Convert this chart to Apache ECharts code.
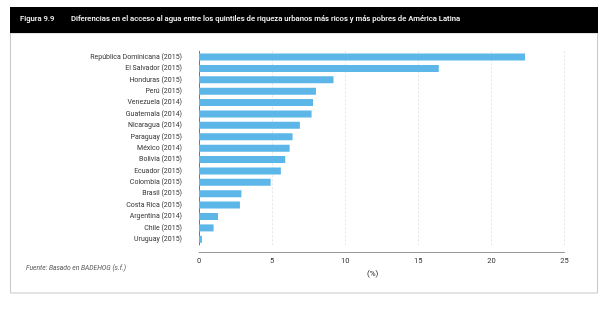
<!DOCTYPE html>
<html><head><meta charset="utf-8">
<script src="https://cdn.jsdelivr.net/npm/echarts@6/dist/echarts.min.js"></script>
<style>html,body{margin:0;padding:0;background:#fff}#c{width:600px;height:329px}</style>
</head><body><div id="c"></div>
<script>
const categories = ["República Dominicana (2015)","El Salvador (2015)","Honduras (2015)","Perú (2015)","Venezuela (2014)","Guatemala (2014)","Nicaragua (2014)","Paraguay (2015)","México (2014)","Bolivia (2015)","Ecuador (2015)","Colombia (2015)","Brasil (2015)","Costa Rica (2015)","Argentina (2014)","Chile (2015)","Uruguay (2015)"];
const values = [22.3,16.4,9.2,8.0,7.8,7.7,6.9,6.4,6.2,5.9,5.6,4.9,2.9,2.8,1.3,1.0,0.2];
const xTicks = [0,5,10,15,20,25];

const chart = echarts.init(document.getElementById('c'), null, {renderer:'canvas'});
chart.setOption({
  backgroundColor:'#fff',
  animation:false,
  graphic:[
    {type:'rect', shape:{x:10.5,y:33,width:587,height:260}, style:{fill:'none',stroke:'#c8c8c8',lineWidth:1}},
    {type:'rect', shape:{x:10,y:7,width:588,height:26}, style:{fill:'#000'}},
    {type:'text', left:20, top:15.5, style:{text:'Figura 9.9', fill:'#fff', font:'500 7.7px Roboto'}},
    {type:'text', left:71, top:15.5, style:{text:'Diferencias en el acceso al agua entre los quintiles de riqueza urbanos más ricos y más pobres de América Latina', fill:'#fff', font:'500 7.7px Roboto'}},
    {type:'text', left:26, top:265, style:{text:'Fuente: Basado en BADEHOG (s.f.)', fill:'#555', font:'italic 6.7px Roboto'}},
    {type:'text', left:367, top:270, style:{text:'(%)', fill:'#222', font:'8px Roboto'}}
  ],
  grid:{left:199, right:35.5, top:51.3, bottom:84, containLabel:false},
  xAxis:{
    type:'value', min:0, max:25, interval:5, offset:7,
    axisLine:{show:true, lineStyle:{color:'#999', width:1}},
    axisTick:{show:false},
    axisLabel:{fontSize:7.5, color:'#333', fontFamily:'Roboto', margin:5,
      formatter:v=> xTicks.includes(v)? String(v):''},
    splitLine:{show:true, lineStyle:{color:'#e4e4e4', type:[2,2], width:1}}
  },
  yAxis:{
    type:'category', data:categories, inverse:true,
    axisLine:{show:true, lineStyle:{color:'#777', width:1}},
    axisTick:{show:false},
    axisLabel:{fontSize:7, color:'#333', fontFamily:'Roboto', margin:17}
  },
  series:[{
    type:'bar', data:values, barWidth:7,
    itemStyle:{color:'#5db6e8'}
  }]
});
</script></body></html>
